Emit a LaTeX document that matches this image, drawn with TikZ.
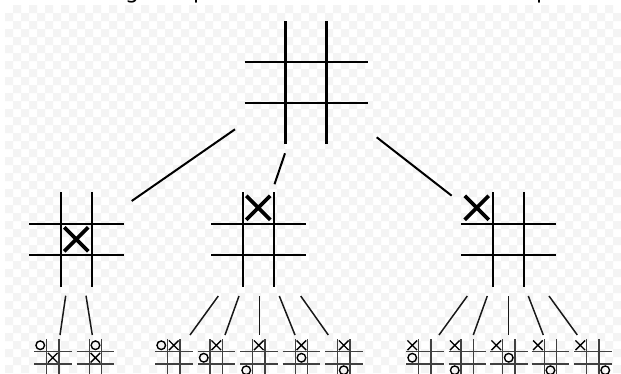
\documentclass[tikz,border=0pt]{standalone}
\usepackage{fontspec}
\setmainfont{DejaVu Sans}
\begin{document}
\begin{tikzpicture}[x=1pt,y=-1pt,
  bigline/.style={line width=2.3pt,black},
  midline/.style={line width=2pt,black},
  bigmark/.style={line width=3.8pt,black},
  smallgrid/.style={line width=1.2pt,black!75},
  smallmark/.style={line width=1.4pt,black},
  link/.style={line width=2pt,black},
  thinlink/.style={line width=1.5pt,black!90},
  frag/.style={anchor=base,inner sep=0pt,font=\fontsize{22}{24}\selectfont}
]
\useasboundingbox (0,0) rectangle (621,373);
% checkerboard background
\fill[white] (0,0) rectangle (621,373);
\fill[gray!9,even odd rule]
  \foreach \i in {1,3,...,77} { (5+8*\i,5) rectangle (13+8*\i,373) }
  \foreach \j in {1,3,...,46} { (5,5+8*\j) rectangle (621,13+8*\j) };
% fragments of cut-off text (only descenders visible)
\node[frag] (fg) at (132,-1.8) {g};
\node[frag] (fp1) at (200,-1.8) {p};
\node[frag] (fp2) at (543,-1.8) {p};

% board macros
\newcommand{\tttboard}[5]{% x0 y0 cell style name
  \draw[#4] (#1+#3,#2) -- (#1+#3,#2+3*#3) (#1+2*#3,#2) -- (#1+2*#3,#2+3*#3)
            (#1,#2+#3) -- (#1+3*#3,#2+#3) (#1,#2+2*#3) -- (#1+3*#3,#2+2*#3);
  \coordinate (#5) at (#1+1.5*#3,#2+1.5*#3);}
\newcommand{\markX}[4]{% cx cy half style
  \draw[#4] (#1-#3,#2-#3) -- (#1+#3,#2+#3) (#1-#3,#2+#3) -- (#1+#3,#2-#3);}
\newcommand{\markO}[4]{% cx cy r style
  \draw[#4] (#1,#2) circle[radius=#3];}
\newcommand{\smallbd}[3]{% small board at x0,y0, name
  \tttboard{#1}{#2}{12.5}{smallgrid}{#3}}
\newcommand{\sX}[4]{\markX{#1+6.25+12.5*#3}{#2+6.25+12.5*#4}{4.8}{smallmark}}
\newcommand{\sO}[4]{\markO{#1+6.25+12.5*#3}{#2+6.25+12.5*#4}{4.3}{smallmark}}

% level 1
\tttboard{244.5}{21}{41}{bigline}{root}
% level 2
\tttboard{29}{192}{31.5}{midline}{bL}
\tttboard{211}{192}{31.5}{midline}{bM}
\tttboard{461}{192}{31.5}{midline}{bR}
\markX{76.25}{239.25}{12}{bigmark}
\markX{258.25}{207.75}{12}{bigmark}
\markX{476.75}{207.75}{12}{bigmark}

% level 3 boards
\smallbd{34}{339}{s1}\sO{34}{339}{0}{0}\sX{34}{339}{1}{1}
\smallbd{76.7}{339}{s2}\sO{76.7}{339}{1}{0}\sX{76.7}{339}{1}{1}
\smallbd{155}{339}{s3}\sO{155}{339}{0}{0}\sX{155}{339}{1}{0}
\smallbd{197.5}{339}{s4}\sX{197.5}{339}{1}{0}\sO{197.5}{339}{0}{1}
\smallbd{240}{339}{s5}\sX{240}{339}{1}{0}\sO{240}{339}{0}{2}
\smallbd{282.7}{339}{s6}\sX{282.7}{339}{1}{0}\sO{282.7}{339}{1}{1}
\smallbd{325}{339}{s7}\sX{325}{339}{1}{0}\sO{325}{339}{1}{2}
\smallbd{406}{339}{s8}\sX{406}{339}{0}{0}\sO{406}{339}{0}{1}
\smallbd{448.5}{339}{s9}\sX{448.5}{339}{0}{0}\sO{448.5}{339}{0}{2}
\smallbd{490}{339}{s10}\sX{490}{339}{0}{0}\sO{490}{339}{1}{1}
\smallbd{531.7}{339}{s11}\sX{531.7}{339}{0}{0}\sO{531.7}{339}{1}{2}
\smallbd{574}{339}{s12}\sX{574}{339}{0}{0}\sO{574}{339}{2}{2}

% connectors level 1 -> 2
\coordinate (r1) at (235,129.3);   \coordinate (l1) at (131.7,201);
\coordinate (r2) at (285,153.3);   \coordinate (m1) at (274.5,184.2);
\coordinate (r3) at (376.7,137.3); \coordinate (q1) at (451.7,195.7);
\draw[link] (r1) -- (l1);
\draw[link] (r2) -- (m1);
\draw[link] (r3) -- (q1);

% connectors level 2 -> 3
\coordinate (la1) at (65.7,295.7);  \coordinate (lb1) at (60,335);
\coordinate (la2) at (86,295.7);    \coordinate (lb2) at (92.3,335);
\draw[thinlink] (la1) -- (lb1);
\draw[thinlink] (la2) -- (lb2);
\coordinate (ma1) at (218.3,296); \coordinate (mb1) at (190,335);
\coordinate (ma2) at (239,296);   \coordinate (mb2) at (225,335);
\coordinate (ma3) at (259.3,296); \coordinate (mb3) at (259.3,335);
\coordinate (ma4) at (279.3,296); \coordinate (mb4) at (295,335);
\coordinate (ma5) at (300.7,296); \coordinate (mb5) at (328.3,335);
\foreach \k in {1,...,5} \draw[thinlink] (ma\k) -- (mb\k);
\coordinate (ra1) at (467.3,296); \coordinate (rb1) at (439,335);
\coordinate (ra2) at (487.3,296); \coordinate (rb2) at (473.3,335);
\coordinate (ra3) at (508.3,296); \coordinate (rb3) at (508.3,335);
\coordinate (ra4) at (528.3,296); \coordinate (rb4) at (543.3,335);
\coordinate (ra5) at (549,296);   \coordinate (rb5) at (577.3,335);
\foreach \k in {1,...,5} \draw[thinlink] (ra\k) -- (rb\k);
\end{tikzpicture}
\end{document}
